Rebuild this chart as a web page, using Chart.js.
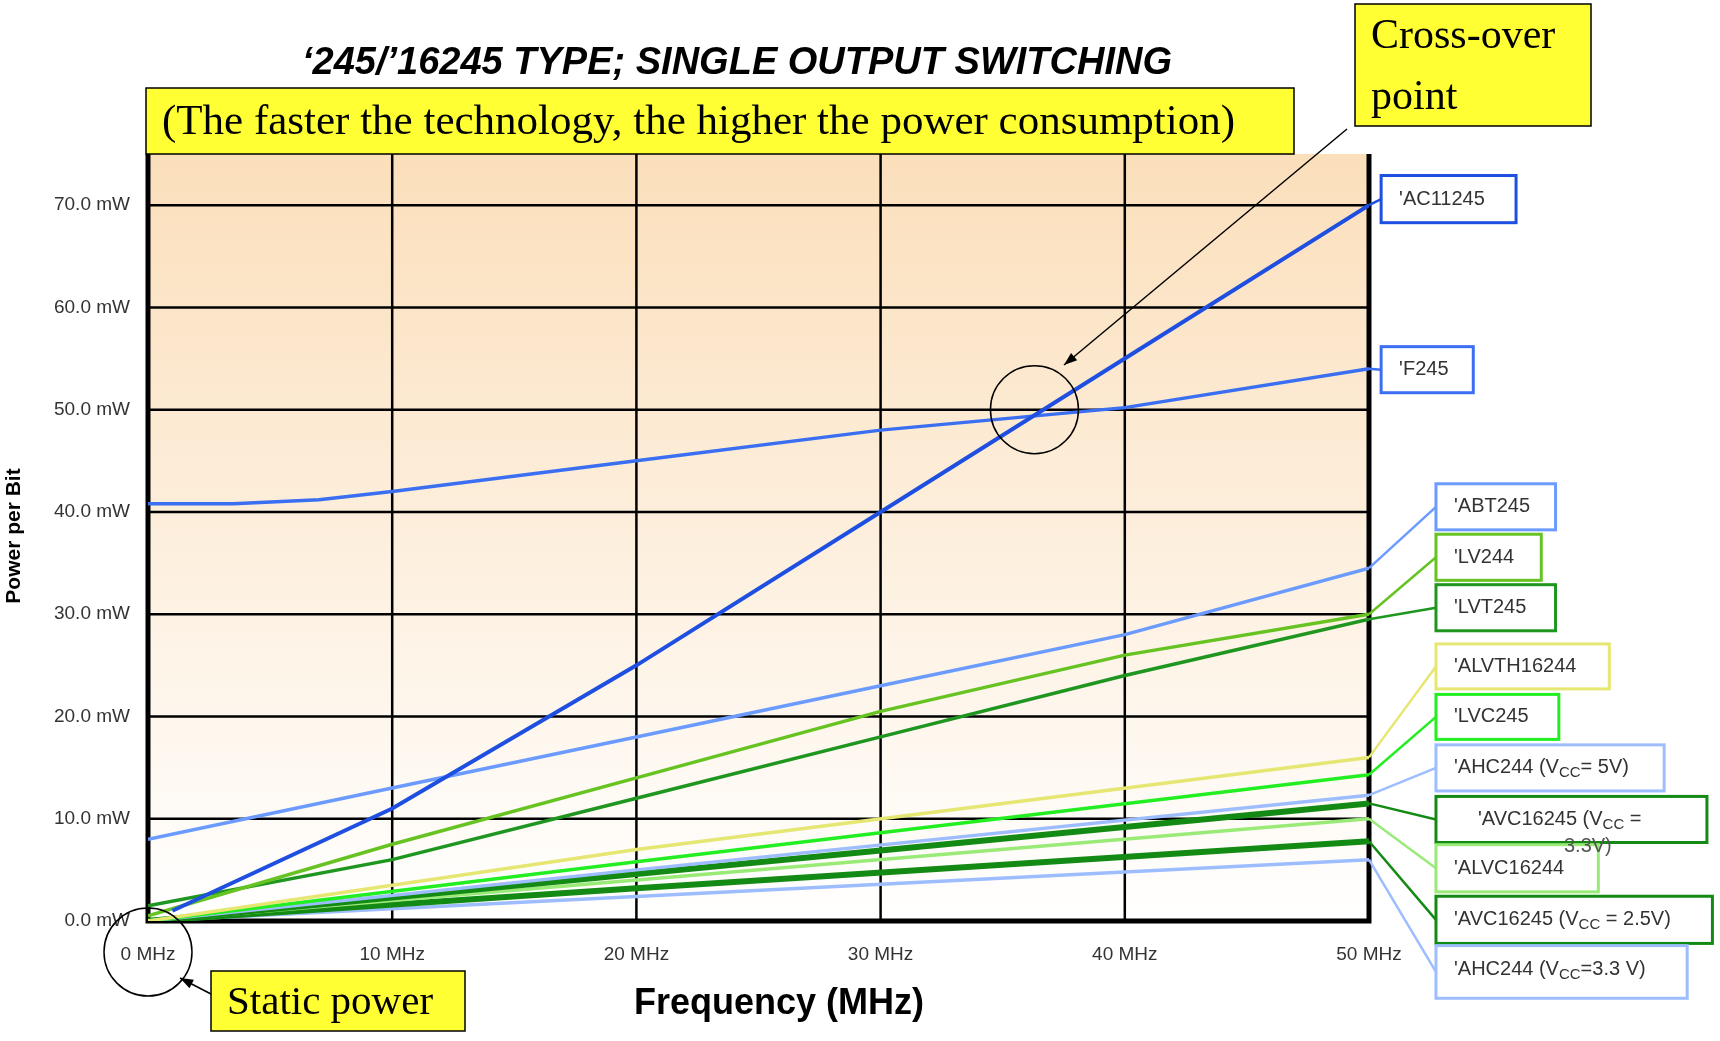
<!DOCTYPE html>
<html><head><meta charset="utf-8">
<script src="https://cdn.jsdelivr.net/npm/chart.js@4/dist/chart.umd.min.js"></script>
<style>html,body{margin:0;background:#fff}#w{width:1720px;height:1041px}</style>
</head><body><div id="w"><canvas id="c"></canvas></div>
<script>
// series (MHz -> mW per bit)
const names = ["'AC11245","'F245","'ABT245","'LV244","'LVT245","'ALVTH16244","'LVC245",
  "'AHC244 (V_CC= 5V)","'AVC16245 (V_CC =","'ALVC16244","'AVC16245 (V_CC = 2.5V)","'AHC244 (V_CC=3.3 V)"];
const freqAC = [1, 10, 20, 30, 40, 50];
const ac11245 = [1, 11, 25, 40, 55, 70];
const freqF = [0, 3.5, 7, 10, 20, 30, 40, 50];
const f245 = [40.8, 40.8, 41.2, 42, 45, 48, 50.2, 54];
const freqLin = [0, 10, 20, 30, 40, 50];
const abt245 = [8, 13, 18, 23, 28, 34.5];
const lv244 = [0.5, 7.5, 14, 20.5, 26, 30];
const lvt245 = [1.5, 6, 12, 18, 24, 29.5];
const freqEnds = [0, 20, 50];
const alvth16244 = [0, 7, 16];
const lvc245 = [0, 5.8, 14.3];
const ahc244_5v = [0, 5, 12.3];
const avc_33 = [0, 4.6, 11.5];
const alvc16244 = [0, 4, 10];
const avc_25 = [0, 3.2, 7.8];
const ahc244_33 = [0, 2.4, 6];
const xTicks = [0, 10, 20, 30, 40, 50];

const xs = [freqAC, freqF, freqLin, freqLin, freqLin, freqEnds, freqEnds, freqEnds, freqEnds, freqEnds, freqEnds, freqEnds];
const ys = [ac11245, f245, abt245, lv244, lvt245, alvth16244, lvc245, ahc244_5v, avc_33, alvc16244, avc_25, ahc244_33];
const colors = ['#1f4fe0','#3b6ff2','#6b9bff','#66c322','#1f961f','#e6e672','#22ee22','#9dbdff','#138a13','#9aea78','#138a13','#9dbdff'];
const widths = [4, 3.5, 3.5, 3.5, 3.5, 3.5, 3.5, 3.5, 6, 3.5, 6, 3.5];

const K = 1.097; // picture scale
// label boxes (left, top, right, bottom) in picture units
const boxes = [[1259,160,1382,203],[1259,316,1343,358],[1309,441,1418,483],[1309,487,1405,529],[1309,533,1418,575],
  [1309,587,1467,628],[1309,633,1421,674],[1309,679,1517,721],[1309,726,1556,768],[1309,770,1457,813],[1309,817,1561,860],[1309,862,1538,910]];

function drawLabel(ctx, txt, x, y) {
  // handles "_CC" as a subscript
  const parts = txt.split('_CC');
  ctx.font = '20px Arial, "Liberation Sans"';
  let cx = x;
  parts.forEach((p, i) => {
    if (i > 0) {
      ctx.font = '15px Arial, "Liberation Sans"';
      ctx.fillText('CC', cx, y + 5); cx += ctx.measureText('CC').width;
      ctx.font = '20px Arial, "Liberation Sans"';
    }
    ctx.fillText(p, cx, y); cx += ctx.measureText(p).width;
  });
}

const deco = {
  id: 'deco',
  beforeDatasetsDraw(chart) {
    const {ctx, chartArea: a, scales: {x, y}} = chart;
    ctx.save();
    const g = ctx.createLinearGradient(0, a.top, 0, a.bottom);
    g.addColorStop(0, '#fbdfbb'); g.addColorStop(1, '#ffffff');
    ctx.fillStyle = g; ctx.fillRect(a.left, a.top, a.right - a.left, a.bottom - a.top);
    ctx.strokeStyle = '#000'; ctx.lineWidth = 2.5;
    for (let v = 10; v <= 70; v += 10) { ctx.beginPath(); ctx.moveTo(a.left, y.getPixelForValue(v)); ctx.lineTo(a.right, y.getPixelForValue(v)); ctx.stroke(); }
    for (let v = 10; v < 50; v += 10) { ctx.beginPath(); ctx.moveTo(x.getPixelForValue(v), a.top); ctx.lineTo(x.getPixelForValue(v), a.bottom); ctx.stroke(); }
    ctx.lineWidth = 5;
    ctx.beginPath(); ctx.moveTo(a.left, a.top); ctx.lineTo(a.left, a.bottom); ctx.lineTo(a.right, a.bottom); ctx.lineTo(a.right, a.top); ctx.stroke();
    ctx.restore();
  },
  afterDatasetsDraw(chart) {
    const {ctx, chartArea: a, scales: {x, y}} = chart;
    ctx.save();
    // leader lines + label boxes
    names.forEach((n, i) => {
      const xv = xs[i], yv = ys[i];
      const px = x.getPixelForValue(xv[xv.length - 1]), py = y.getPixelForValue(yv[yv.length - 1]);
      const b = boxes[i].map(v => v * K);
      ctx.strokeStyle = colors[i]; ctx.lineWidth = 2.5;
      ctx.beginPath(); ctx.moveTo(px, py); ctx.lineTo(b[0], (b[1] + b[3]) / 2); ctx.stroke();
      ctx.fillStyle = '#fff'; ctx.fillRect(b[0], b[1], b[2] - b[0], b[3] - b[1]);
      ctx.lineWidth = 3; ctx.strokeRect(b[0], b[1], b[2] - b[0], b[3] - b[1]);
      ctx.fillStyle = '#333'; ctx.textBaseline = 'middle'; ctx.textAlign = 'left';
      const ty = i == 11 ? b[1] + 24 : (b[1] + b[3]) / 2;
      drawLabel(ctx, n, b[0] + (i == 8 ? 42 : 18), ty);
    });
    // overflowing second line of the 3.3V AVC label
    const b8 = boxes[8].map(v => v * K);
    ctx.fillStyle = '#555';
    drawLabel(ctx, '3.3V)', b8[0] + 128, b8[3] + 4);
    // circles
    ctx.strokeStyle = '#000'; ctx.lineWidth = 1.5;
    ctx.beginPath(); ctx.arc(x.getPixelForValue(36.3), y.getPixelForValue(50), 44, 0, Math.PI * 2); ctx.stroke();
    ctx.beginPath(); ctx.arc(x.getPixelForValue(0), 952, 44, 0, Math.PI * 2); ctx.stroke();
    // arrows
    const arrow = (x1, y1, x2, y2) => {
      ctx.beginPath(); ctx.moveTo(x1, y1); ctx.lineTo(x2, y2); ctx.stroke();
      const an = Math.atan2(y2 - y1, x2 - x1);
      ctx.beginPath(); ctx.moveTo(x2, y2);
      ctx.lineTo(x2 - 14 * Math.cos(an - 0.35), y2 - 14 * Math.sin(an - 0.35));
      ctx.lineTo(x2 - 14 * Math.cos(an + 0.35), y2 - 14 * Math.sin(an + 0.35));
      ctx.closePath(); ctx.fillStyle = '#000'; ctx.fill();
    };
    arrow(1347, 129, 1064, 365);
    arrow(211, 994, 180, 978);
    // yellow boxes
    const ybox = (l, t, r, bt, lines, size) => {
      ctx.fillStyle = '#ffff33'; ctx.fillRect(l, t, r - l, bt - t);
      ctx.strokeStyle = '#000'; ctx.lineWidth = 1.5; ctx.strokeRect(l, t, r - l, bt - t);
      ctx.fillStyle = '#000'; ctx.font = size + 'px "Liberation Serif", "Times New Roman", serif';
      ctx.textAlign = 'left'; ctx.textBaseline = 'middle';
      lines.forEach((s, j) => ctx.fillText(s, l + 16, t + (bt - t) / (lines.length * 2) * (2 * j + 1) + 2));
    };
    ybox(146, 88, 1294, 154, ['(The faster the technology, the higher the power consumption)'], 43);
    ybox(1355, 4, 1591, 126, ['Cross-over', 'point'], 42);
    ybox(211, 971, 465, 1031, ['Static power'], 41);
    // titles
    ctx.fillStyle = '#000'; ctx.textAlign = 'center';
    ctx.font = 'italic bold 38px Arial, "Liberation Sans"';
    ctx.fillText("‘245/’16245 TYPE; SINGLE OUTPUT SWITCHING", 737, 64);
    ctx.font = 'bold 36px Arial, "Liberation Sans"';
    ctx.fillText('Frequency (MHz)', 779, 1004);
    ctx.translate(14, 536); ctx.rotate(-Math.PI / 2);
    ctx.font = 'bold 21px Arial, "Liberation Sans"';
    ctx.fillText('Power per Bit', 0, 0);
    ctx.restore();
  }
};

new Chart(document.getElementById('c'), {
  type: 'line',
  data: {
    datasets: names.map((n, i) => ({
      label: n,
      data: xs[i].map((v, j) => ({x: v, y: ys[i][j]})),
      borderColor: colors[i], borderWidth: widths[i], pointRadius: 0, tension: 0, fill: false
    }))
  },
  options: {
    responsive: true, maintainAspectRatio: false, animation: false,
    layout: {padding: {left: 0, right: 351, top: 154, bottom: 0}},
    plugins: {legend: {display: false}, tooltip: {enabled: false}},
    scales: {
      x: {
        type: 'linear', min: 0, max: 50,
        afterFit: s => { s.height = 120; },
        afterBuildTicks: s => { s.ticks = xTicks.map(v => ({value: v})); },
        grid: {display: false}, border: {display: false},
        ticks: {color: '#333', font: {size: 19, family: 'Arial'}, padding: 14, callback: v => v + ' MHz'}
      },
      y: {
        min: 0, max: 75,
        afterFit: s => { s.width = 148; },
        afterBuildTicks: s => { s.ticks = [0,10,20,30,40,50,60,70].map(v => ({value: v})); },
        grid: {display: false}, border: {display: false},
        ticks: {color: '#333', font: {size: 19, family: 'Arial'}, padding: 10, callback: v => v.toFixed(1) + ' mW'}
      }
    }
  },
  plugins: [deco]
});
</script></body></html>
